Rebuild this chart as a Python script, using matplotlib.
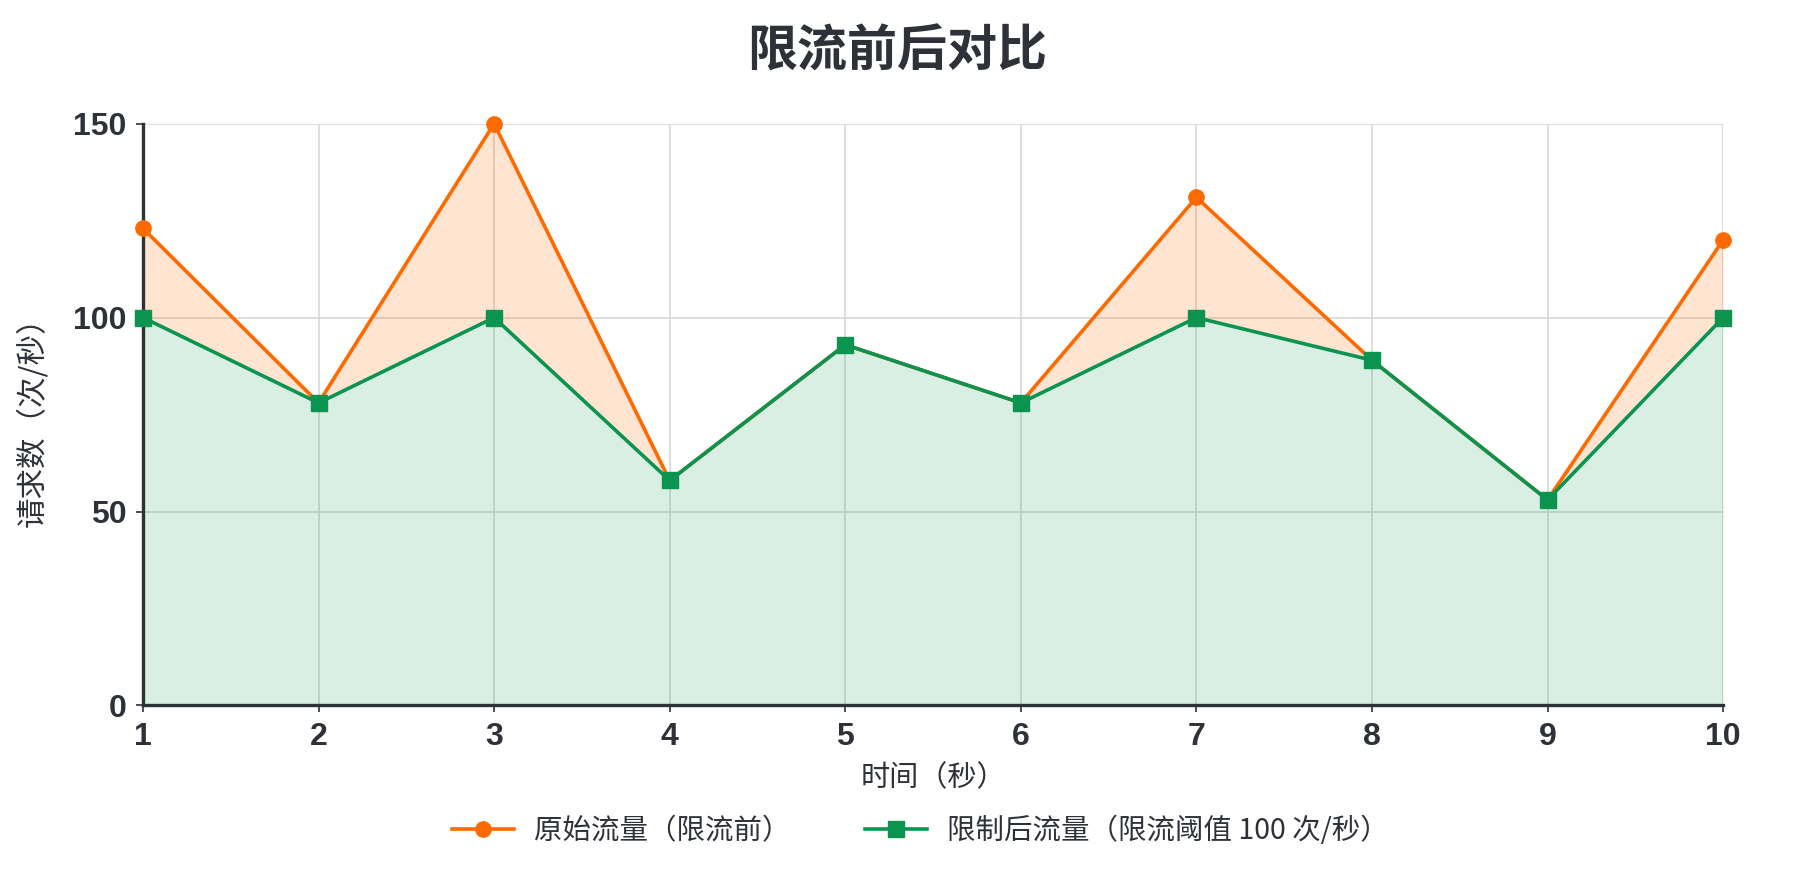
import matplotlib
matplotlib.use('Agg')
import matplotlib.pyplot as plt

plt.rcParams['font.family'] = ['Noto Sans CJK SC', 'DejaVu Sans']

# 时间（秒）
seconds = [1, 2, 3, 4, 5, 6, 7, 8, 9, 10]
# 原始流量 / 限制后流量
original = [123, 78, 150, 58, 93, 78, 131, 89, 53, 120]
limited = [100, 78, 100, 58, 93, 78, 100, 89, 53, 100]
y_ticks = [0, 50, 100, 150]

orange = '#ff6a00'
green = '#0b9450'
dark = '#2e3138'

fig = plt.figure(figsize=(17.94, 8.77), dpi=100)
ax = fig.add_axes([0.0797, 0.1956, 0.8808, 0.6634])

# 填充区域
ax.fill_between(seconds, original, limited, color=orange, alpha=0.18, linewidth=0)
ax.fill_between(seconds, limited, 0, color=green, alpha=0.15, linewidth=0)

ax.plot(seconds, original, color=orange, lw=2.6, marker='o', ms=11,
        label='原始流量（限流前）', clip_on=False, zorder=3)
ax.plot(seconds, limited, color=green, lw=2.6, marker='s', ms=11,
        label='限制后流量（限流阈值 100 次/秒）', clip_on=False, zorder=4)

ax.set_xlim(1, 10)
ax.set_ylim(0, 150)
ax.set_xticks(seconds)
ax.set_yticks(y_ticks)
ax.grid(True, color='#d8d8d8', lw=1.2)
ax.set_axisbelow(True)

for s in ['top', 'right']:
    ax.spines[s].set_visible(False)
for s in ['left', 'bottom']:
    ax.spines[s].set_color(dark)
    ax.spines[s].set_linewidth(2.4)

ax.tick_params(axis='both', length=5, width=1.2, color=dark,
               labelsize=23, labelcolor=dark, pad=7)
for lbl in ax.get_xticklabels() + ax.get_yticklabels():
    lbl.set_fontweight('bold')
    lbl.set_family(['Liberation Sans', 'DejaVu Sans'])

ax.set_xlabel('时间（秒）', fontsize=21, color=dark, labelpad=8)
ax.set_ylabel('请求数（次/秒）', fontsize=22, color=dark, labelpad=18)

fig.suptitle('限流前后对比', fontsize=36, fontweight='bold', color=dark, y=0.97)

fig.legend(loc='center', bbox_to_anchor=(0.513, 0.052), ncol=2, frameon=False,
           fontsize=20.5, handlelength=2.2, handletextpad=0.7, columnspacing=2.6,
           labelcolor=dark)

fig.savefig('out.png', dpi=100)
